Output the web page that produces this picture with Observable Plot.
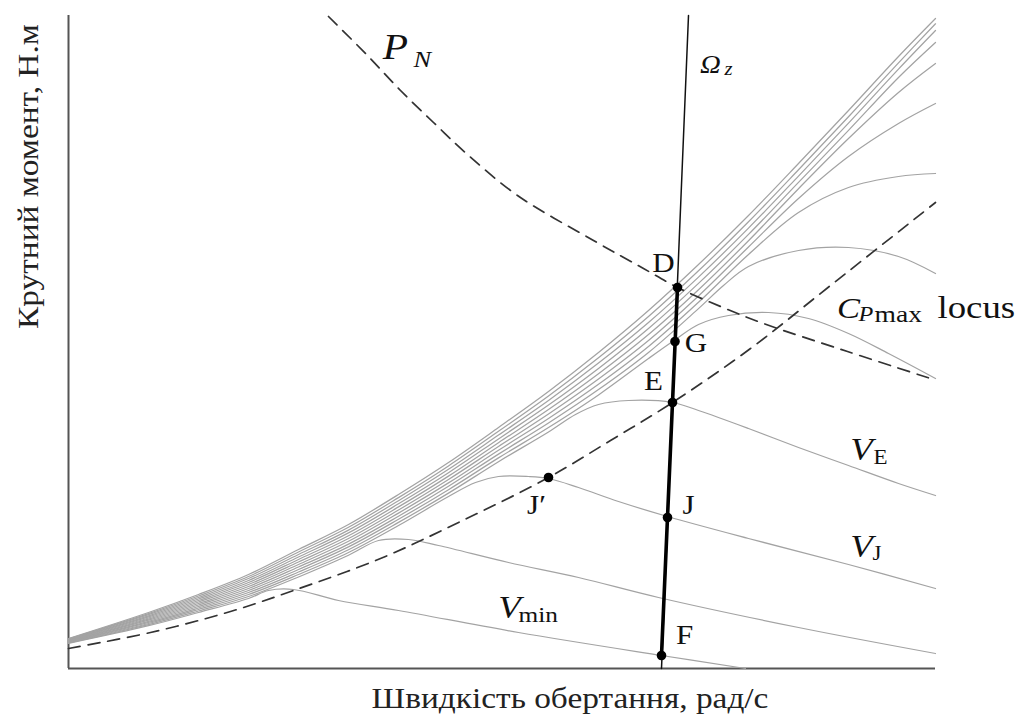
<!DOCTYPE html>
<html>
<head>
<meta charset="utf-8">
<script src="https://cdn.jsdelivr.net/npm/d3@7"></script>
<script src="https://cdn.jsdelivr.net/npm/@observablehq/plot@0.6"></script>
<style>
  body { margin: 0; background: #fff; }
  #chart svg { display: block; }
</style>
</head>
<body>
<div id="chart"></div>
<script>
// Torque–speed curves of the rotor, one per wind speed, [speed, torque] pairs.
// Lowest wind speed (V_min) first, highest last.
const vMin = [[0,2.52],[8,4.28],[13,5.6],[18,7.0],[20,7.8],[22.5,7.9],[27,6.8],[33,5.8],[45,3.6],[59.3,1.3],[67.7,0]];
const v2   = [[0,2.56],[8,4.39],[13,5.75],[18,7.2],[23,9.15],[28,11.32],[31,12.8],[34,12.9],[37,12.3],[44,10.6],[51,9.1],[59,7.1],[73,4.1],[86.7,1.5]];
const vJ   = [[0,2.6],[8,4.5],[13,5.9],[18,7.4],[23,9.4],[28,11.6],[33,14.3],[38,17.2],[40.7,18.6],[43,19.2],[46,19.2],[48,19.0],[51,18.1],[55,16.7],[59.9,15.2],[68,13.0],[78,10.4],[86.7,8.0]];
const vE   = [[0,2.64],[8,4.61],[13,6.05],[18,7.6],[23,9.65],[28,11.88],[33,14.61],[38,17.54],[43,20.68],[48,23.65],[50.7,25.4],[53,26.4],[56,26.8],[60.4,26.6],[63,25.8],[68,24.0],[73,22.1],[78,20.3],[83,18.5],[86.7,17.3]];
const v5   = [[0,2.68],[8,4.72],[13,6.2],[18,7.8],[23,9.9],[28,12.16],[33,14.92],[38,17.88],[43,21.06],[48,24.1],[53,27.36],[58,31.0],[60.7,32.9],[63,34.4],[66,35.3],[70,35.6],[74,35.0],[78,33.5],[82,31.5],[86.7,29.0]];
const v6   = [[0,2.72],[8,4.83],[13,6.35],[18,8.0],[23,10.15],[28,12.44],[33,15.23],[38,18.22],[43,21.44],[48,24.55],[53,27.89],[58,31.6],[63,35.99],[65.5,38.3],[68,40.2],[73,41.8],[78,42.1],[83,41.2],[86.7,39.5]];
const v7   = [[0,2.76],[8,4.94],[13,6.5],[18,8.2],[23,10.4],[28,12.72],[33,15.54],[38,18.56],[43,21.82],[48,25.0],[53,28.42],[58,32.2],[63,36.62],[68,41.4],[73,45.6],[78,48.1],[83,49.2],[86.7,49.5]];
const v8   = [[0,2.8],[8,5.05],[13,6.65],[18,8.4],[23,10.65],[28,13.0],[33,15.85],[38,18.9],[43,22.2],[48,25.45],[53,28.95],[58,32.8],[63,37.25],[68,42.15],[73,47.0],[78,51.2],[83,54.5],[86.7,56.5]];
const v9   = [[0,2.84],[8,5.16],[13,6.8],[18,8.6],[23,10.9],[28,13.28],[33,16.16],[38,19.24],[43,22.58],[48,25.9],[53,29.48],[58,33.4],[63,37.88],[68,42.78],[73,47.98],[78,53.0],[83,57.6],[86.7,60.5]];
const v10  = [[0,2.88],[8,5.27],[13,6.95],[18,8.8],[23,11.15],[28,13.56],[33,16.47],[38,19.58],[43,22.96],[48,26.35],[53,30.01],[58,34.0],[63,38.51],[68,43.41],[73,48.61],[78,53.81],[83,59.1],[86.7,62.6]];
const v11  = [[0,2.92],[8,5.38],[13,7.1],[18,9.0],[23,11.4],[28,13.84],[33,16.78],[38,19.92],[43,23.34],[48,26.8],[53,30.54],[58,34.6],[63,39.14],[68,44.04],[73,49.24],[78,54.54],[83,59.94],[86.7,63.8]];
const v12  = [[0,2.96],[8,5.49],[13,7.25],[18,9.2],[23,11.65],[28,14.12],[33,17.09],[38,20.26],[43,23.72],[48,27.25],[53,31.07],[58,35.2],[63,39.77],[68,44.67],[73,49.87],[78,55.17],[83,60.57],[86.7,64.47]];
const v13  = [[0,3.0],[8,5.6],[13,7.4],[18,9.4],[23,11.9],[28,14.4],[33,17.4],[38,20.6],[43,24.1],[48,27.7],[53,31.6],[58,35.8],[63,40.4],[68,45.3],[73,50.5],[78,55.8],[83,61.2],[86.7,65.0]];

// Locus of maximum power coefficient
const cpMaxLocus = [[0,2.0],[8.2,3.6],[16.2,5.7],[22.5,7.8],[31.2,11.0],[39.2,14.7],[48,19.1],[54.2,22.8],[60.4,26.6],[68.2,32.0],[76.2,38.3],[86.7,46.6]];
// Rated power hyperbola P_N
const ratedPower = [[26,65.2],[29.9,61.3],[33.2,57.8],[36.5,54.6],[39.9,51.4],[44.9,47.3],[52.5,42.8],[57.5,40.0],[60.9,38.1],[65.2,36.2],[69.5,34.5],[77.9,31.7],[86.2,29.0]];
// Speed limit line Ω_z
const omegaZ = [[62,65.3],[59.3,0]];

// Operating points
const pointNames  = ["D", "G", "E", "J", "F", "J′"];
const pointSpeed  = [60.9, 60.65, 60.4, 59.9, 59.3, 48];
const pointTorque = [38.1, 32.7, 26.6, 15.1, 1.3, 19.1];

const curves = [
  ["Vmin", vMin], ["V2", v2], ["VJ", vJ], ["VE", vE], ["V5", v5], ["V6", v6], ["V7", v7],
  ["V8", v8], ["V9", v9], ["V10", v10], ["V11", v11], ["V12", v12], ["V13", v13]
];
const curveRows = curves.flatMap(([name, pts]) => pts.map(([s, t]) => ({name, s, t})));
const points = pointNames.map((name, i) => ({name, s: pointSpeed[i], t: pointTorque[i]}));
const byName = Object.fromEntries(points.map(p => [p.name, p]));
const thickSegment = [byName["D"], byName["F"]];

const serif = "'Liberation Serif', 'DejaVu Serif', serif";
const px = d => d[0], py = d => d[1];

// label offsets (pixels) relative to each operating point
const labelOffsets = {D: [-14, -24], G: [21, 2], E: [-19, -21], J: [21, -12], F: [23, -20], "J′": [-12, 28]};

function label(text, x, y, opts = {}) {
  return Plot.text([text], {x: () => x, y: () => y, text: d => d, fontFamily: serif, fill: "#111", ...opts});
}

const marks = [
  Plot.ruleX([0], {stroke: "#555", strokeWidth: 2}),
  Plot.ruleY([0], {stroke: "#555", strokeWidth: 2}),
  Plot.line(curveRows, {x: "s", y: "t", z: "name", stroke: "#a3a3a3", strokeWidth: 1.25, curve: "catmull-rom"}),
  Plot.line(cpMaxLocus, {x: px, y: py, stroke: "#333", strokeWidth: 1.7, strokeDasharray: "12,8", curve: "catmull-rom"}),
  Plot.line(ratedPower, {x: px, y: py, stroke: "#333", strokeWidth: 1.7, strokeDasharray: "12,8", curve: "catmull-rom"}),
  Plot.line(omegaZ, {x: px, y: py, stroke: "#111", strokeWidth: 1.5}),
  Plot.line(thickSegment, {x: "s", y: "t", stroke: "#000", strokeWidth: 3.6}),
  Plot.dot(points, {x: "s", y: "t", r: 4.8, fill: "#000"}),
  ...points.map(p => Plot.text([p], {
    x: "s", y: "t", text: "name", dx: labelOffsets[p.name][0], dy: labelOffsets[p.name][1],
    fontFamily: serif, fontSize: 27, fill: "#111"
  })),
  // curve annotations
  label("P", 32.7, 62.1, {fontSize: 36, fontStyle: "italic"}),
  label("N", 34.5, 60.9, {fontSize: 23, fontStyle: "italic", textAnchor: "start"}),
  label("Ω", 64.2, 60.4, {fontSize: 25, fontStyle: "italic"}),
  label("z", 65.6, 59.9, {fontSize: 18, fontStyle: "italic", textAnchor: "start"}),
  label("C", 78.0, 36.0, {fontSize: 30, fontStyle: "italic"}),
  label("P", 79.0, 35.4, {fontSize: 21, fontStyle: "italic", textAnchor: "start"}),
  label("max", 80.6, 35.4, {fontSize: 24, textAnchor: "start"}),
  label("locus", 86.9, 36.1, {fontSize: 32, textAnchor: "start"}),
  label("V", 79.3, 21.9, {fontSize: 32, fontStyle: "italic"}),
  label("E", 80.5, 21.1, {fontSize: 20, textAnchor: "start"}),
  label("V", 79.3, 12.2, {fontSize: 32, fontStyle: "italic"}),
  label("J", 80.4, 11.5, {fontSize: 20, textAnchor: "start"}),
  label("V", 44.1, 6.1, {fontSize: 32, fontStyle: "italic"}),
  label("min", 45.0, 5.4, {fontSize: 22, textAnchor: "start"}),
  // axis titles
  Plot.text(["Крутний момент, Н.м"], {
    frameAnchor: "top-left", dx: -40, dy: 161, rotate: -90,
    textAnchor: "middle", lineAnchor: "middle", fontFamily: serif, fontSize: 29, fill: "#222"
  }),
  Plot.text(["Швидкість обертання, рад/с"], {
    frameAnchor: "bottom", dx: 68, dy: 30,
    textAnchor: "middle", lineAnchor: "middle", fontFamily: serif, fontSize: 29, fill: "#222"
  })
];

const chart = Plot.plot({
  width: 1033,
  height: 720,
  marginLeft: 68,
  marginRight: 98,
  marginTop: 15,
  marginBottom: 52,
  x: {domain: [0, 86.7], axis: null},
  y: {domain: [0, 65.3], axis: null},
  style: {fontFamily: serif, background: "#fff", overflow: "visible"},
  marks
});

// The lettering of this figure is set a little wider than the serif face; stretch glyphs along the baseline.
const stretch = 1.15;
chart.querySelectorAll("text").forEach(t => {
  const tr = t.getAttribute("transform");
  if (tr) {
    t.setAttribute("transform", `${tr} scale(${stretch},1)`);
  } else {
    const x = parseFloat(t.getAttribute("x") || "0") || 0;
    const yAttr = t.getAttribute("y");
    const y = yAttr && !/em$/.test(yAttr) ? parseFloat(yAttr) || 0 : 0;
    t.setAttribute("x", 0);
    if (y) t.setAttribute("y", 0);
    t.setAttribute("transform", `translate(${x},${y}) scale(${stretch},1)`);
  }
});

document.getElementById("chart").append(chart);
</script>
</body>
</html>
